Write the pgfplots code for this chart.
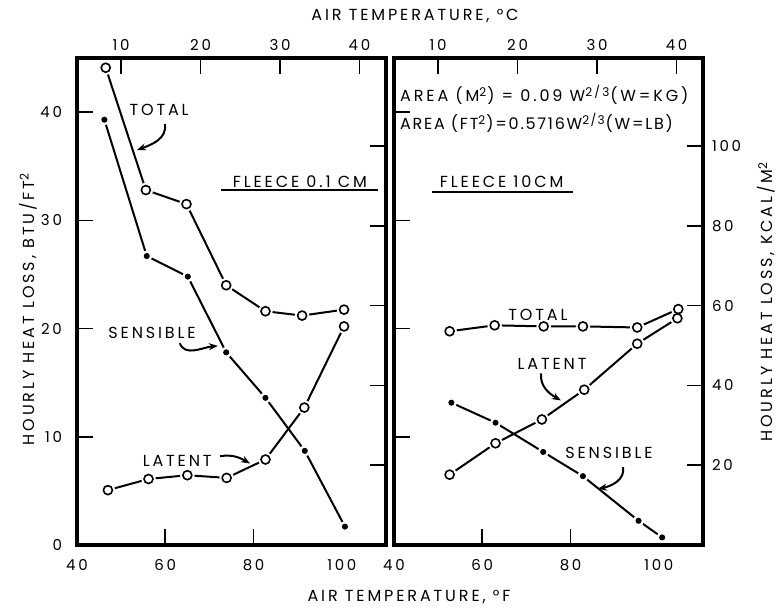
\documentclass[border=0pt]{standalone}
\usepackage{fontspec}
\setmainfont{Poppins}[LetterSpace=18]
\usepackage{pgfplots}
\usepackage{pgfplotstable}
\pgfplotsset{compat=1.18}
\usetikzlibrary{arrows.meta}

\pgfplotstableread{
xt    tot    xs     sen    xl    lat
46.5  44.1   46.2   39.3   47.0  5.07
55.6  32.8   55.8   26.7   56.2  6.1
64.8  31.5   65.1   24.8   65.0  6.45
73.8  24.0   73.8   17.8   73.9  6.2
82.7  21.6   82.7   13.6   82.7  7.9
91.0  21.2   91.6   8.7    91.5  12.7
100.5 21.75  100.7  1.7    100.5 20.2
}\lefttab
\pgfplotstableread{
xt    tot    xs     sen    xl    lat
52.6  19.75  53.0   13.15  52.6  6.5
62.8  20.3   63.0   11.3   63.0  9.4
73.9  20.2   73.8   8.6    73.5  11.6
82.8  20.2   82.8   6.36   83.1  14.35
95.1  20.1   95.4   2.24   95.1  18.6
104.4 21.8   100.75 0.7    104.2 20.95
}\righttab

\newcommand\tf{\fontsize{7.5}{9}\selectfont}
\newcommand\af{\fontsize{8}{9.6}\selectfont}

\pgfplotsset{
  frame/.style={scale only axis, width=154.5pt, height=243.5pt,
    axis line style={line width=1.7pt},
    tick align=inside, major tick length=8pt,
    tick style={black, line width=0.8pt},
    tick label style={font=\tf},
    /pgf/number format/assume math mode=true,
  },
  main/.style={frame, xmin=40, xmax=110, ymin=0, ymax=45,
    xtick={60,80}, extra x ticks={40,100},
    extra x tick style={xtick style={draw=none}},
    xtick pos=left, ytick pos=left, ytick={0,10,20,30,40},
    xticklabel style={yshift=-3.5pt},
    yticklabel style={xshift=-4pt},
    clip=false},
  over/.style={frame, xmin=4.4444, xmax=43.3333, ymin=0, ymax=122.06,
    xtick={10,20,30,40}, ytick={20,40,60,80,100},
    xtick pos=right, ytick pos=right, xticklabel pos=right, yticklabel pos=right},
  ser/.style={line width=1pt, black, no marks},
  halo/.style={only marks, mark=*, mark size=#1, color=white, mark options={draw=white, fill=white}},
  opn/.style={only marks, mark=*, mark size=2.25pt, color=black, mark options={draw=black, fill=white, line width=0.8pt}},
  dot/.style={only marks, mark=*, mark size=1.3pt, color=black, mark options={draw=black, fill=black}},
}
\tikzset{arr/.style={line width=1pt, -{Stealth[length=4.5pt,width=3.5pt]}}}

\begin{document}
\begin{tikzpicture}
\path[use as bounding box] (0,0) rectangle (388pt,303.5pt);

% ---------- left panel ----------
\begin{axis}[over, at={(38.5pt,31pt)}, anchor=south west, yticklabels={}]
\end{axis}
\begin{axis}[main, at={(38.5pt,31pt)}, anchor=south west]
\addplot[ser] table[x=xt,y=tot] {\lefttab};
\addplot[ser] table[x=xs,y=sen] {\lefttab};
\addplot[ser] table[x=xl,y=lat] {\lefttab};
\addplot[halo=3.4pt] table[x=xt,y=tot] {\lefttab};
\addplot[halo=2.6pt] table[x=xs,y=sen] {\lefttab};
\addplot[halo=3.4pt] table[x=xl,y=lat] {\lefttab};
\addplot[opn] table[x=xt,y=tot] {\lefttab};
\addplot[dot] table[x=xs,y=sen] {\lefttab};
\addplot[opn] table[x=xl,y=lat] {\lefttab};
\node[font=\af] at (58.6,40.2) {TOTAL};
\draw[arr] (59.9,38.9) to[out=-80,in=20] (53.6,36.5);
\node[font=\af] at (90.5,33.6) {FLEECE 0.1 CM};
\draw[line width=0.9pt] (72.6,32.8) -- (108.2,32.8);
\node[font=\af] at (57.0,19.6) {SENSIBLE};
\draw[arr] (63.3,18.65) to[out=-70,in=185] (71.9,18.4);
\node[font=\af] at (62.7,7.77) {LATENT};
\draw[arr] (72.4,8.2) to[out=10,in=150] (79.2,7.53);
\end{axis}

% ---------- right panel ----------
\begin{axis}[over, at={(197pt,31pt)}, anchor=south west, yticklabel style={xshift=1pt}]
\end{axis}
\begin{axis}[main, at={(197pt,31pt)}, anchor=south west, yticklabels={}]
\addplot[ser] table[x=xt,y=tot] {\righttab};
\addplot[ser] table[x=xs,y=sen] {\righttab};
\addplot[ser] table[x=xl,y=lat] {\righttab};
\addplot[halo=3.4pt] table[x=xt,y=tot] {\righttab};
\addplot[halo=2.6pt] table[x=xs,y=sen] {\righttab};
\addplot[halo=3.4pt] table[x=xl,y=lat] {\righttab};
\addplot[opn] table[x=xt,y=tot] {\righttab};
\addplot[dot] table[x=xs,y=sen] {\righttab};
\addplot[opn] table[x=xl,y=lat] {\righttab};
\node[font=\af, anchor=west, inner sep=0pt] at (41.3,41.6) {AREA (M\textsuperscript{2}) = 0.09 W\textsuperscript{2/3}(W=KG)};
\node[font=\af\addfontfeature{LetterSpace=11}, anchor=west, inner sep=0pt] at (41.3,39.0) {AREA (FT\textsuperscript{2})=0.5716W\textsuperscript{2/3}(W=LB)};
\node[font=\af] at (64.4,33.6) {FLEECE 10CM};
\draw[line width=0.9pt] (48.6,32.65) -- (80.5,32.65);
\node[font=\af] at (72.6,21.3) {TOTAL};
\node[font=\af] at (75.8,16.75) {LATENT};
\draw[arr] (73.3,15.85) to[out=-95,in=150] (77.8,13.36);
\node[font=\af] at (88.7,8.5) {SENSIBLE};
\draw[arr] (91.9,7.2) to[out=-80,in=10] (86.2,5.2);
\end{axis}

% ---------- outer labels ----------
\node[font=\af] at (207.5pt,295.5pt) {AIR TEMPERATURE, °C};
\node[font=\af] at (204.5pt,5pt) {AIR TEMPERATURE, °F};
\node[font=\af, rotate=90] at (14pt,149pt) {HOURLY HEAT LOSS, BTU/FT\textsuperscript{2}};
\node[font=\af, rotate=90] at (383.3pt,152.75pt) {HOURLY HEAT LOSS, KCAL/M\textsuperscript{2}};
\end{tikzpicture}
\end{document}
